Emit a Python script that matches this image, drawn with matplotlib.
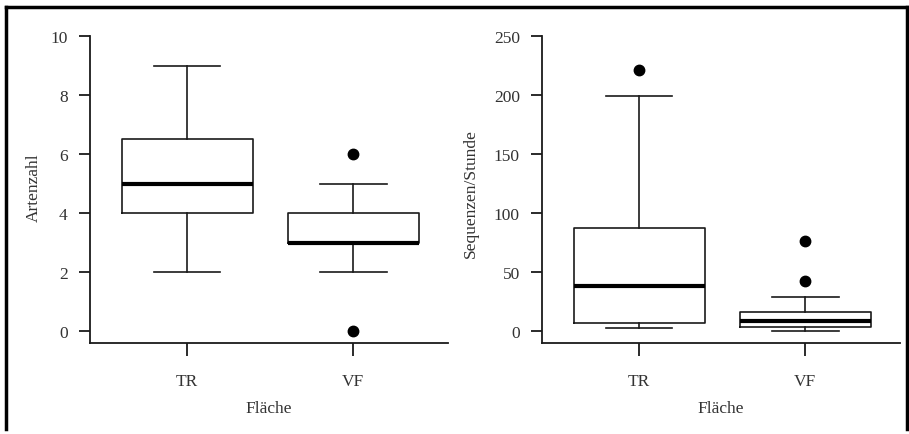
import matplotlib
matplotlib.use("Agg")
import matplotlib.pyplot as plt
from matplotlib.lines import Line2D

plt.rcParams['font.family'] = ['Liberation Serif', 'DejaVu Serif']

# ---- data ----
categories = ["TR", "VF"]
x_label = "Fläche"

# Panel 1: Artenzahl
arten_whislo = [2, 2]
arten_q1 = [4, 3]
arten_med = [5, 3]
arten_q3 = [6.5, 4]
arten_whishi = [9, 5]
arten_fliers = [[], [6, 0]]
arten_ticks = [0, 2, 4, 6, 8, 10]

# Panel 2: Sequenzen/Stunde
seq_whislo = [2.3, 0.3]
seq_q1 = [7, 3.1]
seq_med = [38, 8.7]
seq_q3 = [87, 16.4]
seq_whishi = [199, 29]
seq_fliers = [[221], [76, 42]]
seq_ticks = [0, 50, 100, 150, 200, 250]

W, H = 909, 435
fig = plt.figure(figsize=(W / 100, H / 100), dpi=100)

def px_axes(x0, x1, y_top, y_bot):
    return [x0 / W, 1 - y_bot / H, (x1 - x0) / W, (y_bot - y_top) / H]

ink = "#1a1a1a"
txt = "#333333"
FS = 12.5

def panel(rect, whislo, q1, med, q3, whishi, fliers, ticks, ylabel, ylim, ylab_x, ylab_y):
    ax = fig.add_axes(rect)
    stats = []
    for i in range(len(categories)):
        stats.append(dict(whislo=whislo[i], q1=q1[i], med=med[i], q3=q3[i],
                          whishi=whishi[i], fliers=fliers[i], label=categories[i]))
    ax.bxp(stats, positions=[1, 2], widths=0.79, showfliers=True,
           boxprops=dict(color=ink, linewidth=1.2),
           whiskerprops=dict(color=ink, linewidth=1.2, linestyle='-'),
           capprops=dict(color=ink, linewidth=1.2),
           capwidths=0.4,
           medianprops=dict(color='black', linewidth=3.0),
           flierprops=dict(marker='o', markerfacecolor='black', markeredgecolor='black',
                           markersize=7.5, linestyle='none'))
    ax.set_xlim(0.415, 2.57)
    ax.set_ylim(*ylim)
    ax.set_yticks(ticks)
    ax.set_yticklabels([str(t) for t in ticks])
    ax.set_xticks([1, 2])
    ax.set_xticklabels(categories)
    for s in ['top', 'right']:
        ax.spines[s].set_visible(False)
    ax.spines['left'].set_bounds(ylim[0], ticks[-1])
    for s in ['left', 'bottom']:
        ax.spines[s].set_color(ink)
        ax.spines[s].set_linewidth(1.3)
    ax.tick_params(axis='y', length=8, width=1.3, color=ink, pad=8, labelsize=FS, labelcolor=txt)
    ax.tick_params(axis='x', length=9, width=1.3, color=ink, pad=13, labelsize=FS, labelcolor=txt)
    ax.set_ylabel(ylabel, fontsize=FS, color=txt)
    ax.yaxis.set_label_coords(ylab_x, ylab_y)
    ax.set_xlabel(x_label, fontsize=FS, color=txt)
    ax.xaxis.set_label_coords(0.5, -0.178)
    ax.patch.set_alpha(0)
    return ax

# mapping: 0 -> y 332 px, top tick -> y 37 px
panel(px_axes(90, 448, 25.2, 343.8), arten_whislo, arten_q1, arten_med, arten_q3,
      arten_whishi, arten_fliers, arten_ticks, "Artenzahl", (-0.4, 10.4), -0.134, 0.49)
panel(px_axes(542, 900, 25.2, 343.8), seq_whislo, seq_q1, seq_med, seq_q3,
      seq_whishi, seq_fliers, seq_ticks, "Sequenzen/Stunde", (-10, 260), -0.176, 0.47)

# outer frame (top, left, right)
fl = dict(color='black', linewidth=2.5, transform=fig.transFigure, solid_capstyle='projecting')
fig.add_artist(Line2D([5.5 / W, 907 / W], [1 - 8 / H, 1 - 8 / H], **fl))
fig.add_artist(Line2D([5.5 / W, 5.5 / W], [1 - 8 / H, 1 - 430 / H], **fl))
fig.add_artist(Line2D([907 / W, 907 / W], [1 - 8 / H, 1 - 430 / H], **fl))

fig.savefig("out.png", dpi=100, facecolor='white')
